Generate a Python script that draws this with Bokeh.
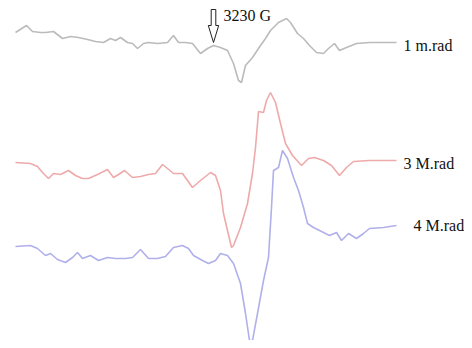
from bokeh.plotting import figure
from bokeh.models import Range1d
from bokeh.embed import file_html
from bokeh.resources import INLINE
from bokeh.core.properties import value

# ---- data (position along field sweep, signal relative to each trace's baseline) ----
x_1m = [15, 26, 32, 40, 45, 53, 62, 70, 78, 87, 95, 103, 110, 115, 120, 127, 132, 137, 143, 148,
        157, 167, 173, 178, 185, 192, 200, 207, 213, 220, 227, 233, 238, 241, 245, 252, 260, 265,
        270, 278, 286, 290, 297, 303, 309, 316, 323, 328, 334, 339, 346, 356, 369, 383, 396]
s_1m = [10, 17, 11, 10, 10, 11, 4, 6, 5, 3, 1, 0, 4, 2, 5, 0, -1, -6, -1, 0,
        -1, 0, 7, 0, 0, -1, -11, -6, -3, -5, -8, -21, -38, -40, -23, -15, -3, 4,
        12, 20, 24, 20, 9, 4, -3, -10, -11, -6, -1, -8, -5, -1, 0, 0, 0]

x_3M = [15, 30, 37, 42, 48, 53, 60, 68, 75, 82, 88, 97, 107, 113, 118, 124, 132, 140, 148, 155,
        162, 167, 173, 182, 192, 200, 210, 215, 220, 223, 227, 231, 233, 240, 247, 252, 255, 258,
        263, 266, 270, 275, 280, 285, 292, 301, 308, 314, 323, 331, 339, 346, 353, 369, 383, 396]
s_3M = [-2, -3, -6, -12, -18, -13, -14, -10, -15, -18, -18, -14, -9, -17, -14, -10, -17, -16, -14, -13,
        -4, -8, -13, -13, -27, -20, -12, -15, -30, -53, -70, -87, -85, -67, -43, -13, 13, 49,
        48, 60, 68, 58, 37, 17, 5, -5, 2, 3, 0, -5, -15, -7, -1, 0, 0, 0]

x_4M = [15, 30, 37, 45, 50, 57, 65, 72, 77, 82, 90, 98, 107, 115, 125, 132, 140, 148, 157, 165,
        173, 182, 188, 193, 202, 208, 215, 220, 227, 233, 240, 245, 249, 252, 257, 263, 268, 271,
        273, 278, 282, 287, 293, 298, 303, 307, 313, 323, 329, 336, 341, 348, 356, 363, 369, 383, 396]
s_4M = [-19, -18, -21, -28, -26, -32, -35, -30, -25, -31, -28, -33, -30, -31, -31, -30, -22, -31, -31, -29,
        -20, -18, -21, -28, -33, -36, -33, -26, -28, -36, -56, -86, -113, -113, -86, -53, -30, 20,
        57, 60, 77, 69, 50, 37, 20, 4, 0, -5, -8, -5, -13, -6, -11, -6, -1, 0, 2]

labels = ["1 m.rad", "3 M.rad", "4 M.rad"]
baselines = [298, 180, 113]          # vertical offset of each trace
label_x = [403, 403, 413]
label_dy = [-3, -3, 2]
colors = ["#bbbbbb", "#eeaaaa", "#b0b0ea"]

marker_label = "3230 G"
marker_pos = 213

# ---- figure ----
p = figure(width=464, height=340, output_backend="svg", toolbar_location=None,
           x_range=Range1d(0, 464), y_range=Range1d(0, 340), min_border=0)
p.axis.visible = False
p.grid.visible = False
p.outline_line_color = None
p.background_fill_color = "white"
p.border_fill_color = "white"

series = [(x_1m, s_1m), (x_3M, s_3M), (x_4M, s_4M)]
for (xs, ss), b, c in zip(series, baselines, colors):
    p.line(xs, [b + s for s in ss], line_color=c, line_width=1.6)

for lab, b, lx, dy in zip(labels, baselines, label_x, label_dy):
    p.text([lx], [b + dy], text=[lab], text_font=value("Liberation Serif"),
           text_font_size="16px", text_color="#111111", text_baseline="middle", text_align="left")

# hollow block arrow marking 3230 G
top, shaft_end, tip = 331, 315, 298
sw, hw = 2.3, 5.2
ax = [marker_pos - sw, marker_pos + sw, marker_pos + sw, marker_pos + hw, marker_pos,
      marker_pos - hw, marker_pos - sw]
ay = [top, top, shaft_end, shaft_end, tip, shaft_end, shaft_end]
p.patch(ax, ay, fill_color="white", line_color="#222222", line_width=1)
p.text([marker_pos + 10], [325], text=[marker_label], text_font=value("Liberation Serif"),
       text_font_size="16px", text_color="#111111", text_baseline="middle", text_align="left")

open("out.html", "w").write(file_html(p, INLINE))
